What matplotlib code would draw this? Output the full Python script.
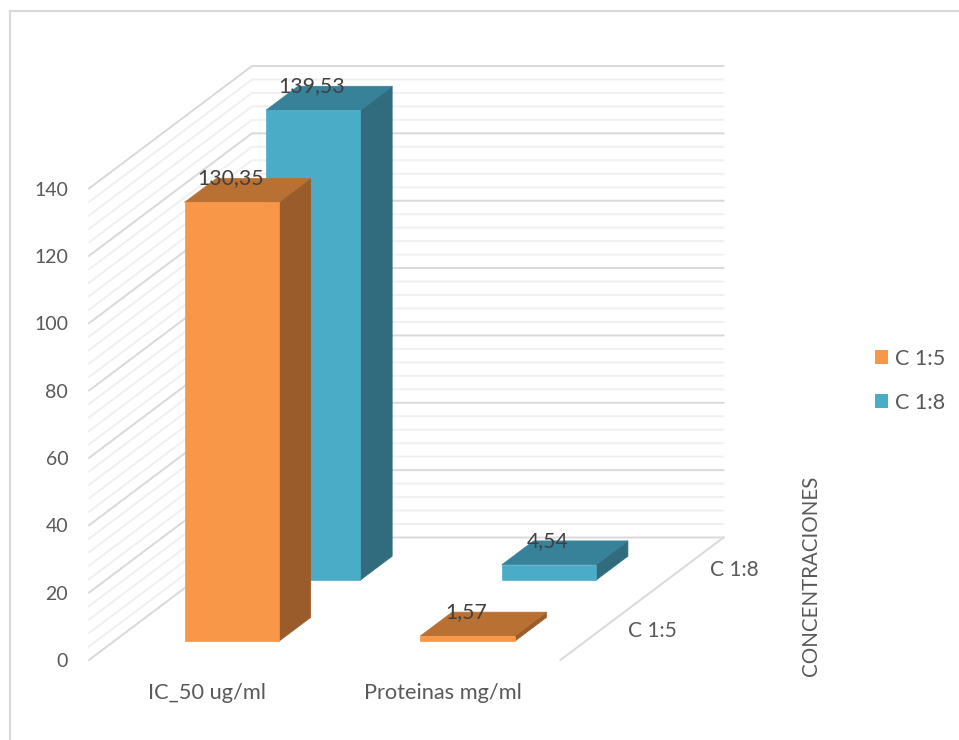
from matplotlib import pyplot as plt
from matplotlib.patches import Polygon, Patch

plt.rcParams['font.family'] = ['Lato', 'DejaVu Sans']

# datos
categorias = ["IC_50 ug/ml", "Proteinas mg/ml"]
series = ["C 1:5", "C 1:8"]
valores_15 = [130.35, 1.57]
valores_18 = [139.53, 4.54]
etiquetas_15 = ["130,35", "1,57"]
etiquetas_18 = ["139,53", "4,54"]
ticks_y = [0, 20, 40, 60, 80, 100, 120, 140]
titulo_profundidad = "CONCENTRACIONES"

# colores: frente, techo, lado
color_15 = ["#F99748", "#B97033", "#9A5C2A"]
color_18 = ["#4AACC6", "#378298", "#306C7E"]
gris = "#595959"

# fondo 3D: cuanto se mueve x / y por cada fila de profundidad
DX = 81.5 / 235.75
DY = 61.25 / (471.5 / 140)
ANCHO = 0.4
FONDO = 0.39


def proy(x, d, v):
    return x + d * DX, v + d * DY


def barra(ax, i, fila, valor, colores, z):
    x0 = i + 0.3
    x1 = x0 + ANCHO
    d0 = fila + 0.305
    d1 = d0 + FONDO
    frente = [proy(x0, d0, 0), proy(x1, d0, 0), proy(x1, d0, valor), proy(x0, d0, valor)]
    techo = [proy(x0, d0, valor), proy(x1, d0, valor), proy(x1, d1, valor), proy(x0, d1, valor)]
    lado = [proy(x1, d0, 0), proy(x1, d1, 0), proy(x1, d1, valor), proy(x1, d0, valor)]
    for pts, c in zip([lado, techo, frente], [colores[2], colores[1], colores[0]]):
        ax.add_patch(Polygon(pts, closed=True, facecolor=c, edgecolor=c, lw=0.5, clip_on=False, zorder=z))


fig = plt.figure(figsize=(9.59, 7.40), dpi=100)

# marco del grafico
fig.add_artist(plt.Line2D([10 / 959, 10 / 959], [0, 1 - 11 / 740], color="#D9D9D9", lw=1.5))
fig.add_artist(plt.Line2D([10 / 959, 1], [1 - 11 / 740, 1 - 11 / 740], color="#D9D9D9", lw=1.5))

ax = fig.add_axes([89 / 959, 1 - 660 / 740, 471.5 / 959, 471.5 / 740])
ax.set_xlim(0, 2)
ax.set_ylim(0, 140)
for s in ax.spines.values():
    s.set_visible(False)
ax.patch.set_visible(False)

ax.set_yticks(ticks_y)
ax.set_xticks([0.5, 1.5])
ax.set_xticklabels(categorias)
ax.tick_params(axis='y', length=0, pad=15, labelsize=14, labelcolor=gris)
ax.tick_params(axis='x', length=0, pad=16.5, labelsize=15.7, labelcolor=gris)

# rejilla en paredes (cada 4, las de 20 mas oscuras)
for v in range(0, 141, 4):
    mayor = v % 20 == 0
    c = "#D9D9D9" if mayor else "#F0F0F0"
    z = 2 if mayor else 1
    a = proy(0, 0, v)
    b = proy(0, 2, v)
    e = proy(2, 2, v)
    ax.plot([a[0], b[0], e[0]], [a[1], b[1], e[1]], color=c, lw=1.4, clip_on=False, zorder=z,
            solid_joinstyle='miter')

# borde derecho del piso
a = proy(2, 0, 0)
b = proy(2, 2, 0)
ax.plot([a[0], b[0]], [a[1], b[1]], color="#D9D9D9", lw=1.4, clip_on=False, zorder=2)

# barras, primero la fila de atras
for i in range(len(categorias)):
    barra(ax, i, 1, valores_18[i], color_18, 3 + i)
for i in range(len(categorias)):
    barra(ax, i, 0, valores_15[i], color_15, 5 + i)

# etiquetas de valor
for fila, vals, etis in [(1, valores_18, etiquetas_18), (0, valores_15, etiquetas_15)]:
    for i in range(len(categorias)):
        p = proy(i + 0.5, fila + 0.305, vals[i] + FONDO * DY)
        ax.annotate(etis[i], xy=p, xytext=(-1, 0), textcoords='offset points', ha='center', va='center',
                    fontsize=15.3, color="#404040", zorder=10, annotation_clip=False)

# eje de profundidad
for fila, nombre in enumerate(series):
    p = proy(2, fila + 0.5, 0)
    ax.annotate(nombre, xy=p, xytext=(37, -1.5), textcoords='offset points', ha='center', va='center',
                fontsize=15, color=gris, annotation_clip=False)
fig.text(811 / 959, 1 - 576 / 740, titulo_profundidad, rotation=90, ha='center', va='center',
         fontsize=14.8, color=gris)

# leyenda
handles = [Patch(facecolor=color_15[0], label=series[0]), Patch(facecolor=color_18[0], label=series[1])]
fig.legend(handles=handles, loc='center left', bbox_to_anchor=(875 / 959, 1 - 381 / 740), frameon=False,
           fontsize=15.5, labelcolor=gris, handlelength=0.62, handleheight=0.62, handletextpad=0.3,
           labelspacing=1.11, borderpad=0, borderaxespad=0)

fig.savefig("out.png", dpi=100)
